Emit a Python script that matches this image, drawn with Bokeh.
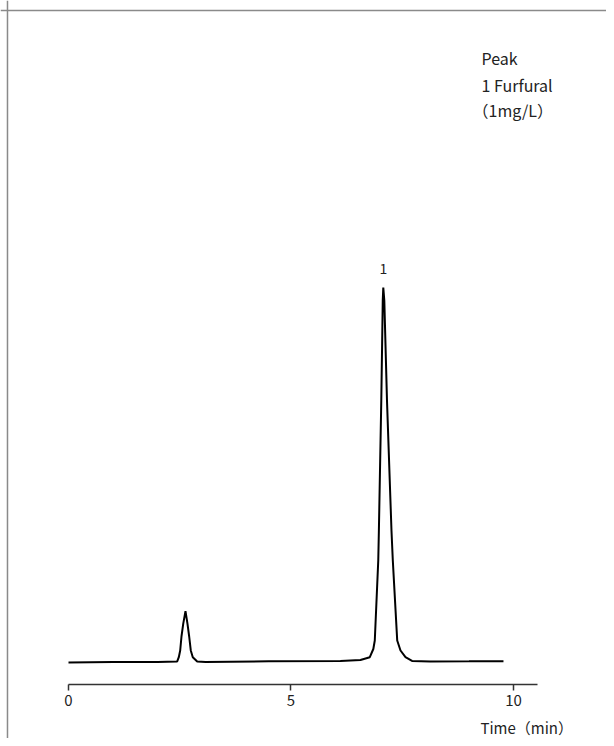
from bokeh.plotting import figure
from bokeh.models import Range1d, LinearAxis, FixedTicker, Label, Span
from bokeh.embed import file_html
from bokeh.resources import INLINE

# Chromatogram trace (time in min, detector response, arbitrary units)
time_min = [0.00, 1.00, 2.00, 2.443, 2.479, 2.510, 2.539, 2.578, 2.629, 2.674, 2.712,
            2.748, 2.793, 2.892, 3.08, 4.50, 6.11, 6.56, 6.771, 6.85, 6.883, 6.961,
            6.975, 7.029, 7.062, 7.074, 7.097, 7.157, 7.258, 7.288, 7.387, 7.461,
            7.573, 7.72, 8.13, 9.00, 9.775]
response = [0.0, 0.1, 0.15, 0.27, 1.41, 3.2, 6.93, 10.3, 13.7, 10.3, 6.93,
            3.2, 1.41, 0.27, 0.13, 0.3, 0.4, 0.67, 1.41, 3.6, 5.87, 27.2,
            35.2, 69.9, 96.5, 100.0, 96.5, 69.9, 35.2, 27.2, 5.87, 3.2,
            1.41, 0.4, 0.27, 0.3, 0.35]

x_ticks = [0, 5, 10]
x_axis_end = 10.55
x_label = "Time（min）"

peak_numbers = ["1"]
peak_times = [7.074]
peak_heights = [100.0]

legend_lines = ["Peak", "1 Furfural", "（1mg/L）"]

FONT = "Noto Sans CJK JP"
PX_PER_MIN = 44.5
PX_PER_UNIT = 3.75

p = figure(width=606, height=738, output_backend="svg", toolbar_location=None,
           x_range=Range1d(-1.528, 12.09), y_range=Range1d(-20.27, 176.53),
           x_axis_location=None, y_axis_location=None, min_border=0)
p.grid.visible = False
p.outline_line_color = None
p.background_fill_color = "white"
p.border_fill_color = "white"

# outer frame (top and left edges visible)
p.add_layout(Span(location=173.87, dimension="width", line_color="#8a8a8a", line_width=1.5))
p.add_layout(Span(location=-1.371, dimension="height", line_color="#8a8a8a", line_width=1.5))

ax = LinearAxis(fixed_location=-5.867, bounds=(0, x_axis_end),
                ticker=FixedTicker(ticks=x_ticks))
ax.axis_line_color = "#333333"
ax.axis_line_width = 1.5
ax.major_tick_line_color = "#333333"
ax.major_tick_line_width = 1.5
ax.major_tick_in = 0
ax.major_tick_out = 6
ax.minor_tick_line_color = None
ax.major_label_standoff = 5
ax.major_label_text_font = FONT
ax.major_label_text_font_size = "15px"
ax.major_label_text_color = "#222222"
p.add_layout(ax, "below")

p.line(time_min, response, line_color="black", line_width=2)

for num, t, h in zip(peak_numbers, peak_times, peak_heights):
    p.add_layout(Label(x=t, y=h + 5.0, text=num, text_align="center",
                       text_baseline="middle", text_font=FONT,
                       text_font_size="14px", text_color="#222222"))

leg_x = 9.281
leg_y = [161.07, 154.13, 147.2]
leg_dx = [0, 0, -9 / PX_PER_MIN]
for txt, yy, dx in zip(legend_lines, leg_y, leg_dx):
    p.add_layout(Label(x=leg_x + dx, y=yy, text=txt, text_align="left",
                       text_baseline="middle", text_font=FONT,
                       text_font_size="16px", text_color="#222222"))

p.add_layout(Label(x=9.258, y=-17.33, text=x_label, text_align="left",
                   text_baseline="middle", text_font=FONT,
                   text_font_size="15px", text_color="#222222"))

open("out.html", "w").write(file_html(p, INLINE))
